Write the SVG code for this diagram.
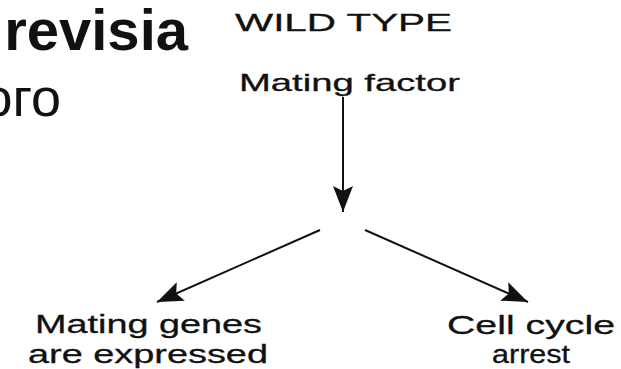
<svg xmlns="http://www.w3.org/2000/svg" width="621" height="369" viewBox="0 0 621 369">
<style>
.t{font-family:"Liberation Sans",Arial,sans-serif;fill:#111;}
.d{stroke:#111;stroke-width:0.3;}
.c{stroke:#111;stroke-width:2;fill:none;}
</style>
<defs>
<marker id="ah" viewBox="0 0 26 20" refX="26" refY="10" markerWidth="26" markerHeight="20" markerUnits="userSpaceOnUse" orient="auto">
<path d="M0,0 L26,10 L0,20 L5,10 z" fill="#111"/>
</marker>
</defs>
<rect width="621" height="369" fill="#fff"/>
<g id="slide-text">
<text class="t" x="188" y="50" font-size="58" font-weight="bold" text-anchor="end" fill="#000">revisia</text>
<text class="t" x="61" y="116" font-size="54" text-anchor="end" fill="#000">ого</text>
</g>
<g id="title"><text class="t d" x="343.5" y="31" font-size="24" text-anchor="middle" textLength="217" lengthAdjust="spacingAndGlyphs">WILD TYPE</text></g>
<g id="mating-factor"><text class="t d" x="349.5" y="91" font-size="24" text-anchor="middle" textLength="221" lengthAdjust="spacingAndGlyphs">Mating factor</text></g>
<g id="mating-genes">
<text class="t d" x="148.5" y="333" font-size="26.5" text-anchor="middle" textLength="227" lengthAdjust="spacingAndGlyphs">Mating genes</text>
<text class="t d" x="148" y="363" font-size="26.5" text-anchor="middle" textLength="240" lengthAdjust="spacingAndGlyphs">are expressed</text>
</g>
<g id="cell-cycle">
<text class="t d" x="531" y="334" font-size="26.5" text-anchor="middle" textLength="168" lengthAdjust="spacingAndGlyphs">Cell cycle</text>
<text class="t d" x="531" y="363" font-size="26.5" text-anchor="middle" textLength="78" lengthAdjust="spacingAndGlyphs">arrest</text>
</g>
<g id="connectors">
<line class="c" x1="343" y1="97" x2="343" y2="212" marker-end="url(#ah)"/>
<line class="c" x1="320" y1="230" x2="157" y2="302" marker-end="url(#ah)"/>
<line class="c" x1="365" y1="230" x2="528" y2="302" marker-end="url(#ah)"/>
</g>
</svg>
